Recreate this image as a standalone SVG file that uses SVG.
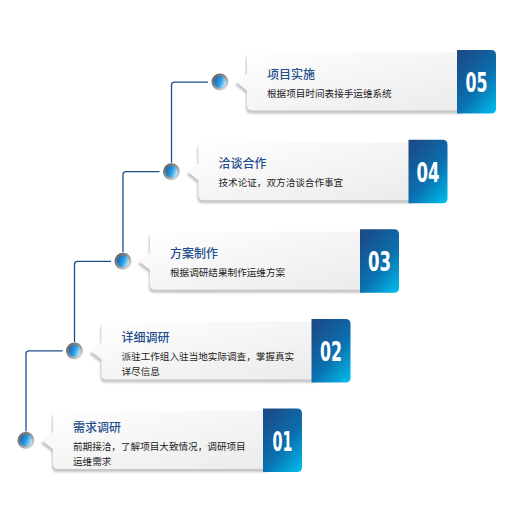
<svg xmlns="http://www.w3.org/2000/svg" width="519" height="519" viewBox="0 0 519 519">
<defs>
<linearGradient id="cardGrad" x1="0" y1="0" x2="1" y2="1">
<stop offset="0" stop-color="#ffffff"/>
<stop offset="1" stop-color="#ebebeb"/>
</linearGradient>
<linearGradient id="blueGrad" x1="0.2" y1="0" x2="0.9" y2="1">
<stop offset="0" stop-color="#1b4c89"/>
<stop offset="0.55" stop-color="#0b6fae"/>
<stop offset="1" stop-color="#00b8ea"/>
</linearGradient>
<linearGradient id="ringGrad" x1="0.1" y1="0.1" x2="0.9" y2="0.9">
<stop offset="0" stop-color="#5e5e5e"/>
<stop offset="0.6" stop-color="#a0a0a0"/>
<stop offset="1" stop-color="#e6e6e6"/>
</linearGradient>
<linearGradient id="dotGrad" x1="0" y1="0.3" x2="1" y2="0.7">
<stop offset="0" stop-color="#1766b3"/>
<stop offset="0.5" stop-color="#2a9be0"/>
<stop offset="1" stop-color="#c6eeff"/>
</linearGradient>
<filter id="shadow" x="-20%" y="-20%" width="140%" height="150%">
<feGaussianBlur stdDeviation="1.2"/>
</filter>
<path id="cardShape" d="M5,2 H216 V60 H5 Q0,60 0,55 V40 L-11,31.5 L0,23 V7 Q0,2 5,2 Z"/>
<path id="blueShape" d="M0,-0.5 H34 Q39,-0.5 39,4.5 V58 Q39,63 34,63 H0 Z"/>
<g id="dot">
<circle r="8.5" fill="url(#ringGrad)"/>
<circle r="6" fill="url(#dotGrad)"/>
</g>
</defs>
<style>
.shadow { fill: #c4c4c4; filter: url(#shadow); }
.card { fill: url(#cardGrad); }
.blue { fill: url(#blueGrad); }
.title { font-family: "Noto Sans CJK SC", "Noto Sans", sans-serif; font-size: 12px; font-weight: 500; fill: #1f4e8c; }
.sub { font-family: "Noto Sans CJK SC", "Noto Sans", sans-serif; font-size: 9.6px; fill: #222222; }
.num { font-family: "DejaVu Sans", sans-serif; font-weight: bold; font-size: 27px; fill: #ffffff; text-anchor: middle; }
.conn { fill: none; stroke: #1d4f8b; stroke-width: 1.3; }
</style>
<rect width="519" height="519" fill="#ffffff"/>

<g id="connectors">
<path class="conn" d="M26,431.5 V353.9 Q26,350.9 29,350.9 H62.5"/>
<path class="conn" d="M74.5,341.9 V264.3 Q74.5,261.3 77.5,261.3 H111"/>
<path class="conn" d="M123,252.3 V174.7 Q123,171.7 126,171.7 H159.5"/>
<path class="conn" d="M171.5,162.7 V85.1 Q171.5,82.1 174.5,82.1 H208"/>
</g>

<g id="step1" transform="translate(53,409)">
<use href="#cardShape" class="shadow" transform="translate(-1,3)"/>
<use href="#cardShape" class="card"/>
<use href="#blueShape" class="blue" x="210"/>
<use href="#dot" x="-27" y="31.5"/>
<text class="title" x="20" y="23">需求调研</text>
<text class="sub" x="20" y="41">前期接洽，了解项目大致情况，调研项目</text>
<text class="sub" x="20" y="56">运维需求</text>
<text class="num" x="229.5" y="41.5" textLength="20" lengthAdjust="spacingAndGlyphs">01</text>
</g>

<g id="step2" transform="translate(101.5,319.4)">
<use href="#cardShape" class="shadow" transform="translate(-1,3)"/>
<use href="#cardShape" class="card"/>
<use href="#blueShape" class="blue" x="210"/>
<use href="#dot" x="-27" y="31.5"/>
<text class="title" x="20" y="23">详细调研</text>
<text class="sub" x="20" y="41">派驻工作组入驻当地实际调查，掌握真实</text>
<text class="sub" x="20" y="56">详尽信息</text>
<text class="num" x="229.5" y="41.5" textLength="22" lengthAdjust="spacingAndGlyphs">02</text>
</g>

<g id="step3" transform="translate(150,229.8)">
<use href="#cardShape" class="shadow" transform="translate(-1,3)"/>
<use href="#cardShape" class="card"/>
<use href="#blueShape" class="blue" x="210"/>
<use href="#dot" x="-27" y="31.5"/>
<text class="title" x="20" y="28">方案制作</text>
<text class="sub" x="20" y="46">根据调研结果制作运维方案</text>
<text class="num" x="229.5" y="41.5" textLength="23" lengthAdjust="spacingAndGlyphs">03</text>
</g>

<g id="step4" transform="translate(198.5,140.2)">
<use href="#cardShape" class="shadow" transform="translate(-1,3)"/>
<use href="#cardShape" class="card"/>
<use href="#blueShape" class="blue" x="210"/>
<use href="#dot" x="-27" y="31.5"/>
<text class="title" x="20" y="28">洽谈合作</text>
<text class="sub" x="20" y="46">技术论证，双方洽谈合作事宜</text>
<text class="num" x="229.5" y="41.5" textLength="23" lengthAdjust="spacingAndGlyphs">04</text>
</g>

<g id="step5" transform="translate(247,50.6)">
<use href="#cardShape" class="shadow" transform="translate(-1,3)"/>
<use href="#cardShape" class="card"/>
<use href="#blueShape" class="blue" x="210"/>
<use href="#dot" x="-27" y="31.5"/>
<text class="title" x="20" y="28">项目实施</text>
<text class="sub" x="20" y="46">根据项目时间表接手运维系统</text>
<text class="num" x="229.5" y="41.5" textLength="22" lengthAdjust="spacingAndGlyphs">05</text>
</g>
</svg>
